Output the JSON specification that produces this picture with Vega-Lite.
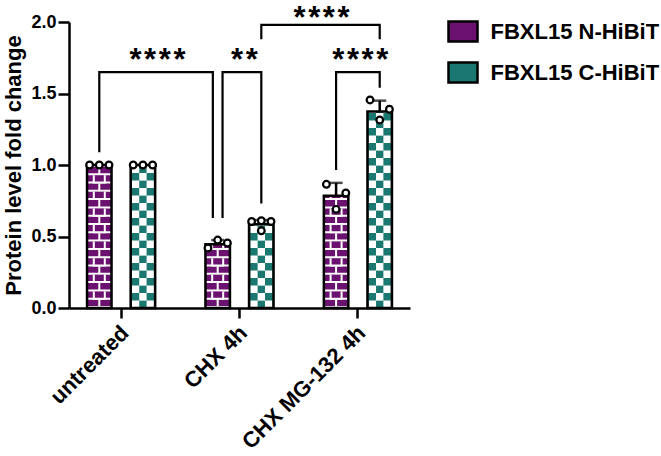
{
  "$schema": "https://vega.github.io/schema/vega-lite/v6.json",
  "width": 341,
  "height": 286,
  "autosize": "none",
  "padding": {"left": 69, "top": 22, "right": 251, "bottom": 148},
  "background": "white",
  "config": {
    "view": {"stroke": null},
    "font": "Liberation Sans",
    "axis": {"domain": true, "ticks": true, "grid": false, "domainColor": "black", "tickColor": "black", "domainWidth": 2.5, "tickWidth": 2.5}
  },
  "datasets": {
    "bars": [
      {"cond": "untreated", "series": "FBXL15 N-HiBiT", "slot": -9, "zero": 0, "mean": 1.0, "upper": 1.0},
      {"cond": "untreated", "series": "FBXL15 C-HiBiT", "slot": 9, "zero": 0, "mean": 1.0, "upper": 1.0},
      {"cond": "CHX 4h", "series": "FBXL15 N-HiBiT", "slot": -9, "zero": 0, "mean": 0.445, "upper": 0.475},
      {"cond": "CHX 4h", "series": "FBXL15 C-HiBiT", "slot": 9, "zero": 0, "mean": 0.585, "upper": 0.615},
      {"cond": "CHX MG-132 4h", "series": "FBXL15 N-HiBiT", "slot": -9, "zero": 0, "mean": 0.785, "upper": 0.875},
      {"cond": "CHX MG-132 4h", "series": "FBXL15 C-HiBiT", "slot": 9, "zero": 0, "mean": 1.375, "upper": 1.45}
    ],
    "pts": [
      {"cond": "untreated", "slot": -13, "val": 1.0},
      {"cond": "untreated", "slot": -9, "val": 1.0},
      {"cond": "untreated", "slot": -5, "val": 1.0},
      {"cond": "untreated", "slot": 5, "val": 1.0},
      {"cond": "untreated", "slot": 9, "val": 1.0},
      {"cond": "untreated", "slot": 13, "val": 1.0},
      {"cond": "CHX 4h", "slot": -13, "val": 0.42},
      {"cond": "CHX 4h", "slot": -9, "val": 0.475},
      {"cond": "CHX 4h", "slot": -5, "val": 0.455},
      {"cond": "CHX 4h", "slot": 5, "val": 0.605},
      {"cond": "CHX 4h", "slot": 9, "val": 0.61},
      {"cond": "CHX 4h", "slot": 13, "val": 0.605},
      {"cond": "CHX 4h", "slot": 9, "val": 0.54},
      {"cond": "CHX MG-132 4h", "slot": -13, "val": 0.865},
      {"cond": "CHX MG-132 4h", "slot": -9, "val": 0.69},
      {"cond": "CHX MG-132 4h", "slot": -5, "val": 0.805},
      {"cond": "CHX MG-132 4h", "slot": 5, "val": 1.455},
      {"cond": "CHX MG-132 4h", "slot": 9, "val": 1.315},
      {"cond": "CHX MG-132 4h", "slot": 13, "val": 1.39}
    ],
    "brk": [
      {"id": "b1", "ord": 1, "cond": "untreated", "slot": -9, "y": 1.09},
      {"id": "b1", "ord": 2, "cond": "untreated", "slot": -9, "y": 1.65},
      {"id": "b1", "ord": 3, "cond": "CHX 4h", "slot": -11, "y": 1.65},
      {"id": "b1", "ord": 4, "cond": "CHX 4h", "slot": -11, "y": 0.63},
      {"id": "b2", "ord": 1, "cond": "CHX 4h", "slot": -7, "y": 0.63},
      {"id": "b2", "ord": 2, "cond": "CHX 4h", "slot": -7, "y": 1.65},
      {"id": "b2", "ord": 3, "cond": "CHX 4h", "slot": 9, "y": 1.65},
      {"id": "b2", "ord": 4, "cond": "CHX 4h", "slot": 9, "y": 0.73},
      {"id": "b3", "ord": 1, "cond": "CHX 4h", "slot": 9, "y": 1.88},
      {"id": "b3", "ord": 2, "cond": "CHX 4h", "slot": 9, "y": 1.98},
      {"id": "b3", "ord": 3, "cond": "CHX MG-132 4h", "slot": 9, "y": 1.98},
      {"id": "b3", "ord": 4, "cond": "CHX MG-132 4h", "slot": 9, "y": 1.88},
      {"id": "b4", "ord": 1, "cond": "CHX MG-132 4h", "slot": -9, "y": 0.965},
      {"id": "b4", "ord": 2, "cond": "CHX MG-132 4h", "slot": -9, "y": 1.65},
      {"id": "b4", "ord": 3, "cond": "CHX MG-132 4h", "slot": 9, "y": 1.65},
      {"id": "b4", "ord": 4, "cond": "CHX MG-132 4h", "slot": 9, "y": 1.54}
    ],
    "stars": [
      {"cond": "untreated", "slot": 15, "y": 1.667, "label": "*\u200a*\u200a*\u200a*"},
      {"cond": "CHX 4h", "slot": 2, "y": 1.667, "label": "*\u200a*"},
      {"cond": "CHX MG-132 4h", "slot": -15, "y": 1.957, "label": "*\u200a*\u200a*\u200a*"},
      {"cond": "CHX MG-132 4h", "slot": 1, "y": 1.667, "label": "*\u200a*\u200a*\u200a*"}
    ]
  },
  "encoding": {
    "x": {
      "field": "cond", "type": "nominal",
      "sort": ["untreated", "CHX 4h", "CHX MG-132 4h"],
      "scale": {"paddingInner": 0.12, "paddingOuter": 0},
      "axis": {
        "title": null, "domain": true, "ticks": true, "labelAngle": -45, "labelAlign": "right", "labelBaseline": "middle",
        "labelFont": "Liberation Sans", "labelFontSize": 22, "labelFontWeight": "bold", "labelColor": "black",
        "labelPadding": 11, "labelOffset": 4, "labelLimit": 300,
        "domainColor": "black", "domainWidth": 2.5, "tickColor": "black", "tickWidth": 2.5, "tickSize": 10
      }
    },
    "xOffset": {
      "field": "slot", "type": "ordinal",
      "scale": {"domain": [-21,-20,-19,-18,-17,-16,-15,-14,-13,-12,-11,-10,-9,-8,-7,-6,-5,-4,-3,-2,-1,0,1,2,3,4,5,6,7,8,9,10,11,12,13,14,15,16,17,18,19,20,21], "paddingInner": 0, "paddingOuter": 0}
    }
  },
  "layer": [
    {
      "data": {"name": "bars"},
      "mark": {"type": "bar", "width": 24.5},
      "encoding": {
        "y": {
          "field": "mean", "type": "quantitative",
          "scale": {"domain": [0, 2]},
          "axis": {
            "title": "Protein level fold change", "titleFont": "Liberation Sans", "titleFontSize": 22,
            "titleFontWeight": "bold", "titleColor": "black", "titlePadding": 5.5,
            "labelFont": "Liberation Sans", "labelFontSize": 18, "labelFontWeight": "bold", "labelColor": "black",
            "labelPadding": 2, "labelFlush": false, "values": [0, 0.5, 1, 1.5, 2], "format": ".1f", "grid": false,
            "domain": true, "ticks": true,
            "domainColor": "black", "domainWidth": 2.5, "tickColor": "black", "tickWidth": 2.5, "tickSize": 11
          }
        },
        "color": {
          "field": "series", "type": "nominal",
          "scale": {"domain": ["FBXL15 N-HiBiT", "FBXL15 C-HiBiT"], "range": ["#6b1170", "#1a7871"]},
          "legend": {
            "orient": "none", "legendX": 382.5, "legendY": -2, "title": null, "padding": 0,
            "symbolType": "M-1.45,-1H1.45V1H-1.45Z", "symbolSize": 400,
            "symbolStrokeColor": "black", "symbolStrokeWidth": 2.5, "symbolOpacity": 1,
            "labelFont": "Liberation Sans", "labelFontSize": 22, "labelFontWeight": "bold", "labelColor": "black",
            "labelOffset": 16, "rowPadding": 10, "labelLimit": 300
          }
        }
      }
    },
    {
      "data": {"name": "bars"},
      "transform": [{"filter": "datum.series === 'FBXL15 N-HiBiT'"}],
      "mark": {"type": "rule", "color": "white", "strokeWidth": 23, "strokeDash": [2, 6.3]},
      "encoding": {"y": {"field": "zero", "type": "quantitative"}, "y2": {"field": "mean"}}
    },
    {
      "data": {"name": "bars"},
      "transform": [{"filter": "datum.series === 'FBXL15 N-HiBiT'"}],
      "mark": {"type": "rule", "color": "white", "strokeWidth": 2, "strokeDash": [8.3, 8.3]},
      "encoding": {"y": {"field": "zero", "type": "quantitative"}, "y2": {"field": "mean"}}
    },
    {
      "data": {"name": "bars"},
      "transform": [{"filter": "datum.series === 'FBXL15 N-HiBiT'"}],
      "mark": {"type": "rule", "color": "white", "strokeWidth": 13, "strokeDash": [8.3, 8.3], "strokeDashOffset": 8.3},
      "encoding": {"y": {"field": "zero", "type": "quantitative"}, "y2": {"field": "mean"}}
    },
    {
      "data": {"name": "bars"},
      "transform": [{"filter": "datum.series === 'FBXL15 N-HiBiT'"}],
      "mark": {"type": "rule", "color": "#6b1170", "strokeWidth": 9, "strokeDash": [6.3, 10.3], "strokeDashOffset": 6.3},
      "encoding": {"y": {"field": "zero", "type": "quantitative"}, "y2": {"field": "mean"}}
    },
    {
      "data": {"name": "bars"},
      "transform": [{"filter": "datum.series === 'FBXL15 C-HiBiT'"}],
      "mark": {"type": "rule", "color": "white", "strokeWidth": 22, "strokeDash": [7.5, 7.5]},
      "encoding": {"y": {"field": "zero", "type": "quantitative"}, "y2": {"field": "mean"}}
    },
    {
      "data": {"name": "bars"},
      "transform": [{"filter": "datum.series === 'FBXL15 C-HiBiT'"}],
      "mark": {"type": "rule", "color": "#1a7871", "strokeWidth": 7.35, "strokeDash": [7.5, 7.5]},
      "encoding": {"y": {"field": "zero", "type": "quantitative"}, "y2": {"field": "mean"}}
    },
    {
      "data": {"name": "bars"},
      "transform": [{"filter": "datum.series === 'FBXL15 C-HiBiT'"}],
      "mark": {"type": "rule", "color": "white", "strokeWidth": 7.35, "strokeDash": [7.5, 7.5], "strokeDashOffset": 7.5},
      "encoding": {"y": {"field": "zero", "type": "quantitative"}, "y2": {"field": "mean"}}
    },
    {
      "data": {"name": "bars"},
      "mark": {"type": "bar", "width": 24.5, "fill": "transparent", "stroke": "black", "strokeWidth": 2.5},
      "encoding": {"y": {"field": "mean", "type": "quantitative"}}
    },
    {
      "data": {"name": "bars"},
      "transform": [{"filter": "datum.upper > datum.mean"}],
      "mark": {"type": "rule", "color": "black", "strokeWidth": 2.5},
      "encoding": {"y": {"field": "mean", "type": "quantitative"}, "y2": {"field": "upper"}}
    },
    {
      "data": {"name": "bars"},
      "transform": [{"filter": "datum.upper > datum.mean"}],
      "mark": {"type": "tick", "color": "black", "size": 13, "thickness": 2.5, "orient": "horizontal"},
      "encoding": {"y": {"field": "upper", "type": "quantitative"}}
    },
    {
      "data": {"name": "pts"},
      "mark": {"type": "point", "shape": "circle", "filled": false, "fill": "white", "stroke": "black", "strokeWidth": 2.2, "size": 45, "opacity": 1},
      "encoding": {"y": {"field": "val", "type": "quantitative"}}
    },
    {
      "data": {"name": "brk"},
      "mark": {"type": "line", "color": "black", "strokeWidth": 2.2},
      "encoding": {
        "y": {"field": "y", "type": "quantitative"},
        "detail": {"field": "id"},
        "order": {"field": "ord", "type": "quantitative"}
      }
    },
    {
      "data": {"name": "stars"},
      "mark": {"type": "text", "font": "Liberation Sans", "fontWeight": "bold", "fontSize": 31, "align": "center", "baseline": "alphabetic", "color": "black"},
      "encoding": {
        "y": {"field": "y", "type": "quantitative"},
        "text": {"field": "label"}
      }
    }
  ]
}
